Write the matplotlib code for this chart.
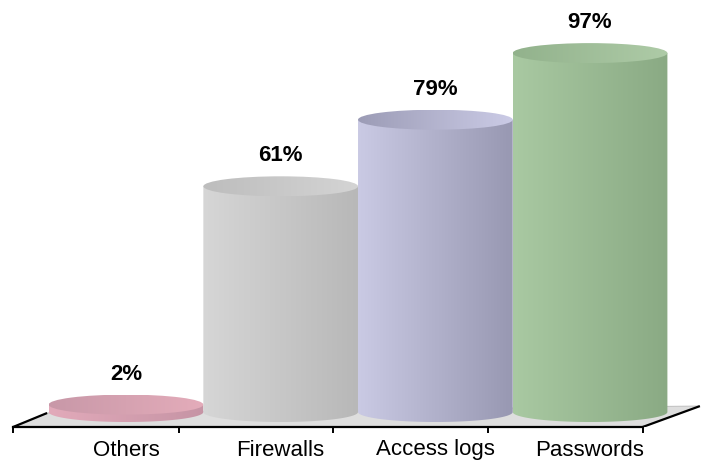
import numpy as np
import matplotlib.pyplot as plt
from matplotlib.path import Path
from matplotlib.patches import PathPatch, Ellipse, Polygon
from matplotlib.colors import LinearSegmentedColormap

# survey results, one cylinder per category
categories = ['Others', 'Firewalls', 'Access logs', 'Passwords']
values = [2, 61, 79, 97]

# side / top shading, left edge -> right edge
side_left = ['#e2aaba', '#d6d6d6', '#cacae4', '#a9c9a2']
side_right = ['#c694a5', '#b8b8b8', '#9898b2', '#8aaa84']
top_left = ['#c898a8', '#bdbdbd', '#9c9cb6', '#92b28c']
top_right = ['#e4acba', '#d4d4d4', '#cbcbe6', '#aecba7']

plt.rcParams['font.family'] = ['Liberation Sans', 'DejaVu Sans']

fig = plt.figure(figsize=(7.07, 4.62), dpi=100)
ax = fig.add_axes([0, 35 / 462, 1, 427 / 462])
ax.set_xlim(-0.8145, 3.756)
ax.set_ylim(-4.05, 111.35)

half_w = 0.5   # cylinder radius in category units
rim = 2.7      # half height of the elliptical ends in value units
n = len(categories)

# floor plane
floor_x0, floor_x1 = -0.73, n - 0.66
floor = Polygon([(floor_x0, -4.05), (floor_x1, -4.05), (n - 0.29, 1.6), (-0.51, -0.27)],
                closed=True, facecolor='#dedede', edgecolor='#c4c4c4', lw=0.8, zorder=1)
ax.add_patch(floor)
ax.plot([floor_x0, -0.51], [-4.05, -0.27], color='black', lw=1.6, zorder=2,
        solid_capstyle='butt')
ax.plot([floor_x1, n - 0.29], [-4.05, 1.6], color='black', lw=1.6, zorder=2,
        solid_capstyle='butt')

grad = np.linspace(0, 1, 256).reshape(1, -1)


def shade(patch, x, y0, y1, c0, c1, z):
    cmap = LinearSegmentedColormap.from_list('shade', [c0, c1])
    patch.set_facecolor('none')
    patch.set_edgecolor('none')
    patch.set_zorder(z)
    ax.add_patch(patch)
    im = ax.imshow(grad, cmap=cmap, aspect='auto', interpolation='bilinear',
                   extent=(x - half_w, x + half_w, y0, y1), zorder=z)
    im.set_clip_path(patch)


for i, (cat, v) in enumerate(zip(categories, values)):
    t = np.linspace(np.pi, 2 * np.pi, 80)
    bx = i + half_w * np.cos(t)
    by = rim * np.sin(t)
    verts = [(i - half_w, v)] + list(zip(bx, by)) + [(i + half_w, v), (i - half_w, v)]
    codes = [Path.MOVETO] + [Path.LINETO] * (len(verts) - 2) + [Path.CLOSEPOLY]
    side = PathPatch(Path(verts, codes))
    shade(side, i, -rim, v, side_left[i], side_right[i], 3 + 2 * i)

    top = Ellipse((i, v), 2 * half_w, 2 * rim)
    shade(top, i, v - rim, v + rim, top_left[i], top_right[i], 4 + 2 * i)

    ax.annotate(f'{v}%', (i, v), xytext=(0, 22), textcoords='offset points',
                ha='center', va='center', fontsize=16, fontweight='bold')

ax.set_xlim(-0.8145, 3.756)
ax.set_ylim(-4.05, 111.35)

for s in ['top', 'left', 'right']:
    ax.spines[s].set_visible(False)
ax.spines['bottom'].set_bounds(floor_x0, floor_x1)
ax.spines['bottom'].set_linewidth(1.6)
ax.set_yticks([])

ticks = np.r_[floor_x0, np.arange(1, n + 1) - 0.66]
ax.set_xticks(ticks, [''] * len(ticks))
ax.set_xticks(np.arange(n), categories, minor=True)
ax.tick_params(axis='x', which='major', direction='out', length=4, width=1.4)
ax.tick_params(axis='x', which='minor', length=0, pad=9, labelsize=16)
ax.patch.set_visible(False)

fig.savefig('out.png', dpi=100)
